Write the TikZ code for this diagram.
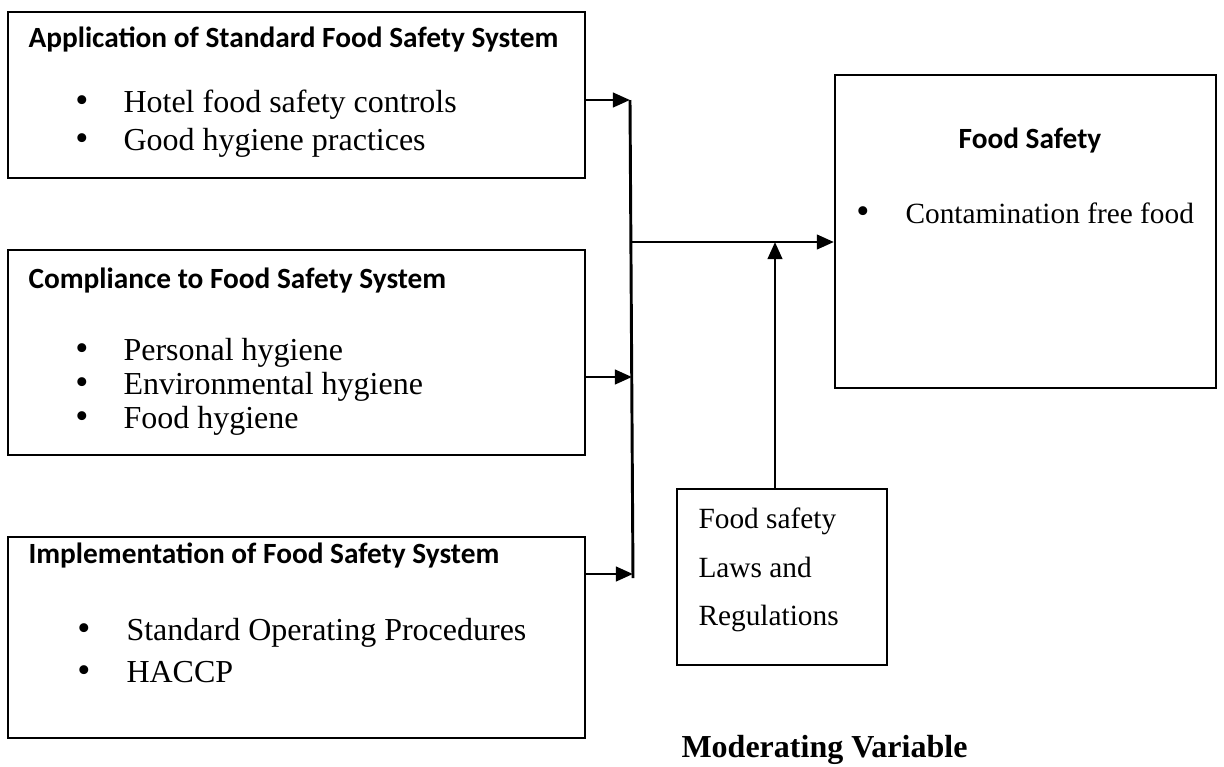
\documentclass[tikz,border=0pt]{standalone}
\usepackage{fontspec}
\setmainfont{Liberation Serif}
\newfontfamily\headfont{Carlito}
\usetikzlibrary{arrows.meta,fit}

\begin{document}
\begin{tikzpicture}[x=0.375pt, y=-0.375pt,
  box/.style={draw, line width=0.8pt, inner sep=0pt},
  head/.style={anchor=base west, inner sep=0pt, font=\headfont\fontsize{11}{13}\selectfont\bfseries},
  dot/.style={anchor=base, inner sep=0pt, font=\fontsize{14}{16}\selectfont},
  item/.style={anchor=base west, inner sep=0pt, font=\fontsize{12}{14}\selectfont},
  small/.style={font=\fontsize{11}{13}\selectfont},
  arr/.style={-{Triangle[length=6.4pt,width=5.4pt]}, line width=1.1pt},
  bus/.style={line width=1.1pt},
]
  \useasboundingbox (0,0) rectangle (1224,766);

  % --- independent variables, left ------------------------------------
  \node[box, fit={(8,12)(585,178)}] (app) {};
  \node[head] (apphead) at (28,47) {Application of Standard Food Safety System};
  \node[dot]  (appd1) at (82,112) {\textbullet};
  \node[item] (appi1) at (123,112) {Hotel food safety controls};
  \node[dot]  (appd2) at (82,150) {\textbullet};
  \node[item] (appi2) at (123,150) {Good hygiene practices};

  \node[box, fit={(8,250)(585,455)}] (comp) {};
  \node[head] (comphead) at (28,288) {Compliance to Food Safety System};
  \node[dot]  (compd1) at (82,360) {\textbullet};
  \node[item] (compi1) at (123,360) {Personal hygiene};
  \node[dot]  (compd2) at (82,394) {\textbullet};
  \node[item] (compi2) at (123,394) {Environmental hygiene};
  \node[dot]  (compd3) at (82,428) {\textbullet};
  \node[item] (compi3) at (123,428) {Food hygiene};

  \node[box, fit={(8,537)(585,738)}] (impl) {};
  \node[head] (implhead) at (28,563) {Implementation of Food Safety System};
  \node[dot]  (impld1) at (84,640) {\textbullet};
  \node[item] (impli1) at (126,640) {Standard Operating Procedures};
  \node[dot]  (impld2) at (84,682) {\textbullet};
  \node[item] (impli2) at (126,682) {HACCP};

  % --- dependent variable, right --------------------------------------
  \node[box, fit={(835,75)(1216,388)}] (safety) {};
  \node[head, anchor=base] (safetyhead) at (1030,148) {Food Safety};
  \node[dot]  (safetyd1) at (863,223) {\textbullet};
  \node[item, small] (safetyi1) at (905,223) {Contamination free food};

  % --- moderating variable --------------------------------------------
  \node[box, fit={(677,489)(887,665)}] (law) {};
  \node[item, small] (law1) at (698,528) {Food safety};
  \node[item, small] (law2) at (698,577) {Laws and};
  \node[item, small] (law3) at (698,625) {Regulations};
  \node[anchor=base west, inner sep=0pt, font=\fontsize{12}{14}\selectfont\bfseries] (modlbl) at (681,757) {Moderating Variable};

  % --- connectors -----------------------------------------------------
  \coordinate (bustop) at (630,100);
  \coordinate (busmid) at (632,377);
  \coordinate (busbot) at (633,574);
  \coordinate (busend) at (633,578);
  \coordinate (busout) at (631,242);
  \coordinate (join)   at (775,242);

  \draw[bus] (bustop) -- (busend);
  \draw[arr] (app.east |- bustop) -- (bustop);
  \draw[arr] (comp.east |- busmid) -- (busmid);
  \draw[arr] (impl.east |- busbot) -- (busbot);
  \draw[arr] (busout) -- (safety.west |- busout);
  \draw[arr] (law.north -| join) -- (join);
\end{tikzpicture}
\end{document}
